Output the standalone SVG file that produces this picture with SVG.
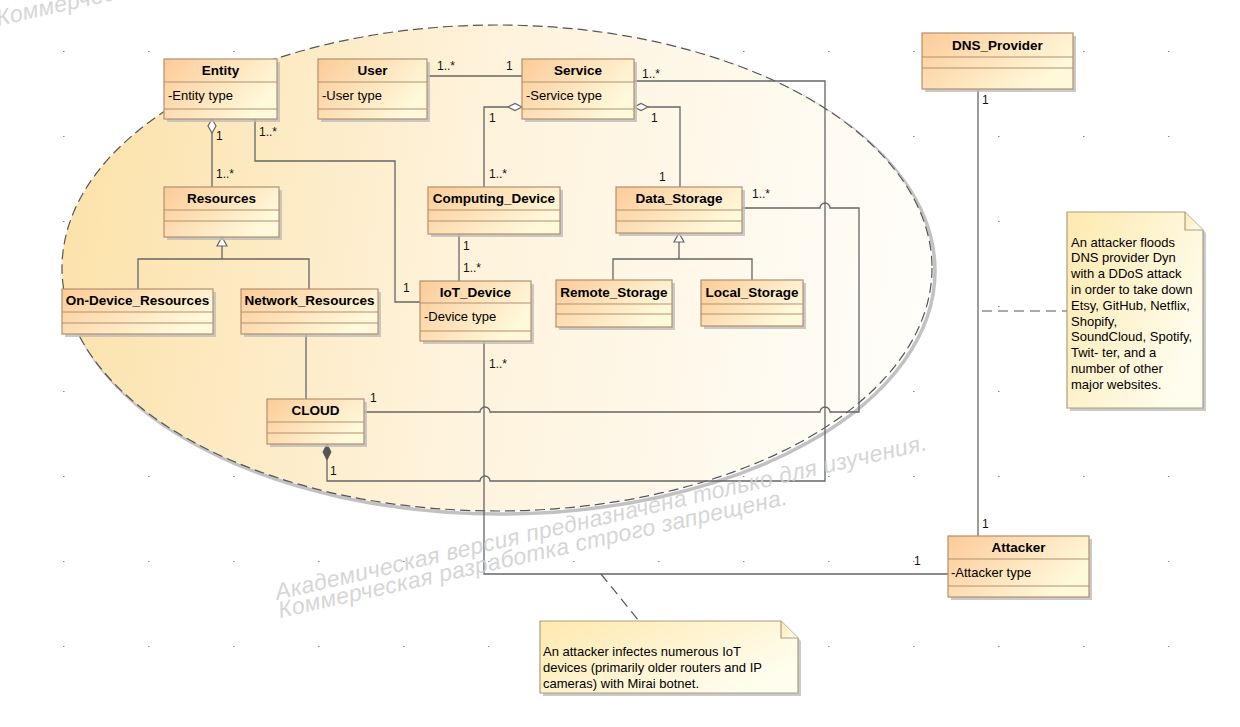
<svg xmlns="http://www.w3.org/2000/svg" width="1240" height="727" viewBox="0 0 1240 727">
<defs>
<pattern id="grid" x="63" y="51" width="85" height="85" patternUnits="userSpaceOnUse">
<rect x="0" y="0" width="1.5" height="1" fill="#8a8a8a"/>
</pattern>
<linearGradient id="ellFill" gradientUnits="userSpaceOnUse" x1="63" y1="200" x2="930" y2="330">
<stop offset="0" stop-color="#FCE2AA"/>
<stop offset="0.45" stop-color="#FEF2DA"/>
<stop offset="1" stop-color="#FFFEFA"/>
</linearGradient>
<linearGradient id="boxFill" x1="0" y1="0" x2="1" y2="0.5">
<stop offset="0" stop-color="#FCCB98"/>
<stop offset="1" stop-color="#FFF9DB"/>
</linearGradient>
<linearGradient id="noteFill" x1="0" y1="0" x2="1" y2="0.6">
<stop offset="0" stop-color="#FEE9AE"/>
<stop offset="1" stop-color="#FFFDEE"/>
</linearGradient>
<style>
.shadow{fill:#bdbdbd;opacity:0.8}
.box{fill:url(#boxFill);stroke:#B3906F;stroke-width:1.2}
.div{stroke:#B3906F;stroke-width:1.2;fill:none}
.nm{font-family:"Liberation Sans",Arial,sans-serif;font-weight:bold;font-size:13.5px;fill:#000;text-anchor:middle}
.at{font-family:"Liberation Sans",Arial,sans-serif;font-size:13px;fill:#000}
.ln{fill:none;stroke:#666;stroke-width:1.3}
.dash{fill:none;stroke:#555;stroke-width:1.2;stroke-dasharray:10 6}
.lbl{font-family:"Liberation Sans",Arial,sans-serif;font-size:12px;fill:#111}
.note{fill:url(#noteFill);stroke:#A89F80;stroke-width:1.2}
.nt{font-family:"Liberation Sans",Arial,sans-serif;font-size:13px;fill:#000}
.wm{font-family:"Liberation Sans",Arial,sans-serif;font-style:italic;font-size:23px;fill:#cfcfcf;opacity:0.85}
</style>
</defs>
<rect width="1240" height="727" fill="#ffffff"/>
<rect width="1240" height="727" fill="url(#grid)"/>
<g id="boundary">
<ellipse cx="500" cy="271" rx="435" ry="243" fill="none" stroke="#c2c2c2" stroke-width="3.5"/>
<ellipse cx="497" cy="268" rx="435" ry="243" fill="url(#ellFill)" stroke="#555" stroke-width="1.2" stroke-dasharray="10 5"/>
</g>
<g id="connectors">
<path class="ln" d="M427 76 H522"/>
<path class="ln" d="M327 460 V481 H480 A5 5 0 0 1 490 481 H825 V81 H634"/>
<polygon points="327,444 331,452 327,460 323,452" fill="#555" stroke="#555" stroke-width="1"/>
<path class="ln" d="M364 412 H480 A5 5 0 0 1 490 412 H820 A5 5 0 0 1 830 412 H859 V208 H830 A5 5 0 0 0 820 208 H742"/>
<path class="ln" d="M484 341 V574 H948"/>
<path class="ln" d="M255 119 V161 H395 V302 H420"/>
<path class="ln" d="M212 133 V187"/>
<polygon points="212,119 216,126 212,133 208,126" fill="#fff" stroke="#666" stroke-width="1.2"/>
<path class="ln" d="M508 107 H484 V187"/>
<polygon points="522,107 515,103.5 508,107 515,110.5" fill="#fff" stroke="#666" stroke-width="1.2"/>
<path class="ln" d="M648 107 H680 V187"/>
<polygon points="634,107 641,103.5 648,107 641,110.5" fill="#fff" stroke="#666" stroke-width="1.2"/>
<path class="ln" d="M459 234 V281"/>
<path class="ln" d="M222 246 V259 M138 289 V259 H309 V289"/>
<polygon points="222,237 227,246 217,246" fill="#fff" stroke="#666" stroke-width="1.2"/>
<path class="ln" d="M679 242 V259 M613 280 V259 H752 V280"/>
<polygon points="679,233 684,242 674,242" fill="#fff" stroke="#666" stroke-width="1.2"/>
<path class="ln" d="M306 334 V399"/>
<path class="ln" d="M978 89 V536"/>
<path class="dash" d="M982 311 H1067"/>
<path class="dash" d="M601 574 L639 621"/>
</g>
<g id="labels">
<text class="lbl" x="437" y="70">1..*</text>
<text class="lbl" x="506" y="70">1</text>
<text class="lbl" x="642" y="78">1..*</text>
<text class="lbl" x="489" y="122">1</text>
<text class="lbl" x="489" y="178">1..*</text>
<text class="lbl" x="651" y="122">1</text>
<text class="lbl" x="659" y="181">1</text>
<text class="lbl" x="752" y="198">1..*</text>
<text class="lbl" x="216" y="140">1</text>
<text class="lbl" x="216" y="178">1..*</text>
<text class="lbl" x="259" y="136">1..*</text>
<text class="lbl" x="403" y="292">1</text>
<text class="lbl" x="463" y="250">1</text>
<text class="lbl" x="463" y="272">1..*</text>
<text class="lbl" x="489" y="368">1..*</text>
<text class="lbl" x="370" y="402">1</text>
<text class="lbl" x="330" y="475">1</text>
<text class="lbl" x="982" y="104">1</text>
<text class="lbl" x="982" y="528">1</text>
<text class="lbl" x="914" y="565">1</text>
</g>
<g id="Entity">
<rect class="shadow" x="167" y="62" width="113" height="60"/>
<rect class="box" x="164" y="59" width="113" height="60"/>
<path class="div" d="M164 82 H277 M164 109 H277"/>
<text class="nm" x="220.5" y="75">Entity</text>
<text class="at" x="168" y="100">-Entity type</text>
</g>
<g id="User">
<rect class="shadow" x="321" y="62" width="109" height="60"/>
<rect class="box" x="318" y="59" width="109" height="60"/>
<path class="div" d="M318 82 H427 M318 109 H427"/>
<text class="nm" x="372.5" y="75">User</text>
<text class="at" x="322" y="100">-User type</text>
</g>
<g id="Service">
<rect class="shadow" x="525" y="62" width="112" height="60"/>
<rect class="box" x="522" y="59" width="112" height="60"/>
<path class="div" d="M522 82 H634 M522 109 H634"/>
<text class="nm" x="578" y="75">Service</text>
<text class="at" x="526" y="100">-Service type</text>
</g>
<g id="Resources">
<rect class="shadow" x="167" y="190" width="115" height="50"/>
<rect class="box" x="164" y="187" width="115" height="50"/>
<path class="div" d="M164 210 H279 M164 221 H279"/>
<text class="nm" x="221.5" y="203">Resources</text>
</g>
<g id="Computing_Device">
<rect class="shadow" x="431" y="190" width="132" height="47"/>
<rect class="box" x="428" y="187" width="132" height="47"/>
<path class="div" d="M428 210 H560 M428 221 H560"/>
<text class="nm" x="494" y="203">Computing_Device</text>
</g>
<g id="Data_Storage">
<rect class="shadow" x="619" y="190" width="126" height="46"/>
<rect class="box" x="616" y="187" width="126" height="46"/>
<path class="div" d="M616 210 H742 M616 221 H742"/>
<text class="nm" x="679" y="203">Data_Storage</text>
</g>
<g id="On-Device_Resources">
<rect class="shadow" x="65" y="292" width="151" height="45"/>
<rect class="box" x="62" y="289" width="151" height="45"/>
<path class="div" d="M62 312 H213 M62 323 H213"/>
<text class="nm" x="137.5" y="305">On-Device_Resources</text>
</g>
<g id="Network_Resources">
<rect class="shadow" x="244" y="292" width="137" height="45"/>
<rect class="box" x="241" y="289" width="137" height="45"/>
<path class="div" d="M241 312 H378 M241 323 H378"/>
<text class="nm" x="309.5" y="305">Network_Resources</text>
</g>
<g id="IoT_Device">
<rect class="shadow" x="423" y="284" width="111" height="60"/>
<rect class="box" x="420" y="281" width="111" height="60"/>
<path class="div" d="M420 303 H531 M420 331 H531"/>
<text class="nm" x="475.5" y="297">IoT_Device</text>
<text class="at" x="424" y="321">-Device type</text>
</g>
<g id="Remote_Storage">
<rect class="shadow" x="559" y="283" width="116" height="47"/>
<rect class="box" x="556" y="280" width="116" height="47"/>
<path class="div" d="M556 304 H672 M556 314 H672"/>
<text class="nm" x="614" y="297">Remote_Storage</text>
</g>
<g id="Local_Storage">
<rect class="shadow" x="704" y="283" width="102" height="46"/>
<rect class="box" x="701" y="280" width="102" height="46"/>
<path class="div" d="M701 304 H803 M701 314 H803"/>
<text class="nm" x="752" y="297">Local_Storage</text>
</g>
<g id="CLOUD">
<rect class="shadow" x="270" y="402" width="97" height="45"/>
<rect class="box" x="267" y="399" width="97" height="45"/>
<path class="div" d="M267 422 H364 M267 433 H364"/>
<text class="nm" x="315.5" y="415">CLOUD</text>
</g>
<g id="DNS_Provider">
<rect class="shadow" x="925" y="36" width="151" height="56"/>
<rect class="box" x="922" y="33" width="151" height="56"/>
<path class="div" d="M922 57 H1073 M922 68 H1073"/>
<text class="nm" x="997.5" y="50">DNS_Provider</text>
</g>
<g id="Attacker">
<rect class="shadow" x="951" y="539" width="141" height="61"/>
<rect class="box" x="948" y="536" width="141" height="61"/>
<path class="div" d="M948 559 H1089 M948 586 H1089"/>
<text class="nm" x="1018.5" y="552">Attacker</text>
<text class="at" x="951" y="577">-Attacker type</text>
</g>
<g id="Note_DNS">
<path class="shadow" d="M1070 215 H1188 L1206 233 V411 H1070 Z"/>
<path class="note" d="M1067 212 H1185 L1203 230 V408 H1067 Z"/>
<path class="note" d="M1185 212 V230 H1203" fill="none"/>
<text class="nt" x="1071" y="246.5">An attacker floods</text>
<text class="nt" x="1071" y="262.3">DNS provider Dyn</text>
<text class="nt" x="1071" y="278.1">with a DDoS attack</text>
<text class="nt" x="1071" y="293.9">in order to take down</text>
<text class="nt" x="1071" y="309.7">Etsy, GitHub, Netflix,</text>
<text class="nt" x="1071" y="325.5">Shopify,</text>
<text class="nt" x="1071" y="341.3">SoundCloud, Spotify,</text>
<text class="nt" x="1071" y="357.1">Twit- ter, and a</text>
<text class="nt" x="1071" y="372.9">number of other</text>
<text class="nt" x="1071" y="388.7">major websites.</text>
</g>
<g id="Note_IoT">
<path class="shadow" d="M543 624 H784 L801 641 V696 H543 Z"/>
<path class="note" d="M540 621 H781 L798 638 V693 H540 Z"/>
<path class="note" d="M781 621 V638 H798" fill="none"/>
<text class="nt" x="543" y="655.5">An attacker infectes numerous IoT</text>
<text class="nt" x="543" y="671.5">devices (primarily older routers and IP</text>
<text class="nt" x="543" y="687.5">cameras) with Mirai botnet.</text>
</g>
<g id="watermark">
<text class="wm" transform="translate(277 600) rotate(-13)" textLength="668" lengthAdjust="spacing">Академическая версия предназначена только для изучения.</text>
<text class="wm" transform="translate(280 618) rotate(-12.6)" textLength="521" lengthAdjust="spacing">Коммерческая разработка строго запрещена.</text>
<text class="wm" transform="translate(-2 26) rotate(-12.6)" textLength="521" lengthAdjust="spacing">Коммерческая разработка строго запрещена.</text>
</g>
</svg>
